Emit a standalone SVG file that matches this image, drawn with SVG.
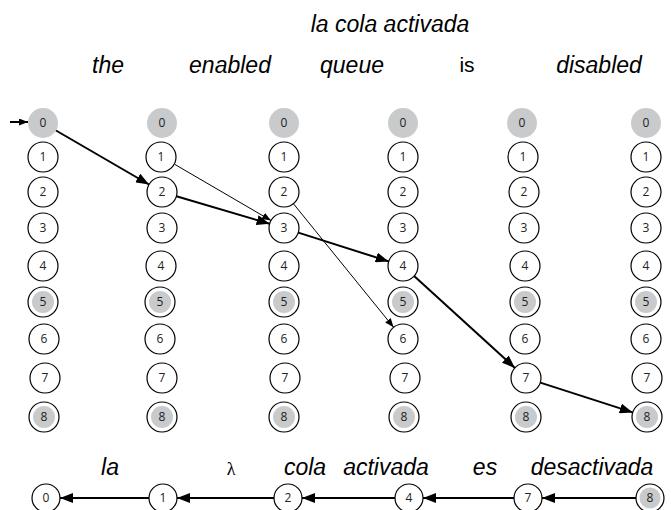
<svg xmlns="http://www.w3.org/2000/svg" width="671" height="510" viewBox="0 0 671 510">
<style>
.c{fill:#fff;stroke:#000;stroke-width:1.2}
.g{fill:#c8cacc;stroke:none}
.gi{fill:#c8cacc;stroke:none}
.n{font-family:"Open Sans","Noto Sans",sans-serif;font-size:12px;text-anchor:middle;fill:#222}
.w{font-family:"Liberation Sans",Arial,sans-serif;font-size:23px;font-style:italic;text-anchor:middle;fill:#000}
.u{font-family:"Liberation Sans",Arial,sans-serif;font-size:21px;text-anchor:middle;fill:#000}
.lam{font-family:"Liberation Serif","DejaVu Serif",serif;font-size:18px;text-anchor:middle;fill:#000}
.thick{stroke:#000;stroke-width:2;fill:none;marker-end:url(#ah)}
.thin{stroke:#000;stroke-width:1;fill:none;marker-end:url(#as)}
</style>
<defs>
<marker id="ah" markerUnits="userSpaceOnUse" markerWidth="14" markerHeight="10" refX="13" refY="5" orient="auto"><path d="M0,0 L13,5 L0,10 z" fill="#000"/></marker>
<marker id="as" markerUnits="userSpaceOnUse" markerWidth="10" markerHeight="8" refX="9" refY="3.5" orient="auto"><path d="M0,0 L9,3.5 L0,7 z" fill="#000"/></marker>
<g id="node0"><circle class="g" r="15"/></g>
<g id="nodeP"><circle class="c" r="15"/></g>
<g id="nodeF"><circle class="c" r="15"/><circle class="gi" r="11"/></g>
</defs>

<g id="labels">
<text class="w" x="390" y="32">la cola activada</text>
<text class="w" x="108" y="73">the</text>
<text class="w" x="230" y="73">enabled</text>
<text class="w" x="352" y="73">queue</text>
<text class="u" x="467" y="72">is</text>
<text class="w" x="599" y="73">disabled</text>
<text class="w" x="110" y="475">la</text>
<text class="lam" x="231" y="475">λ</text>
<text class="w" x="305" y="475">cola</text>
<text class="w" x="386" y="475">activada</text>
<text class="w" x="485" y="475">es</text>
<text class="w" x="592" y="475">desactivada</text>
</g>

<g id="col1">
<g id="n1_0"><use href="#node0" x="43" y="123"/><text class="n" x="43" y="127">0</text></g>
<g id="n1_1"><use href="#nodeP" x="43" y="157"/><text class="n" x="43" y="161">1</text></g>
<g id="n1_2"><use href="#nodeP" x="43" y="192"/><text class="n" x="43" y="196">2</text></g>
<g id="n1_3"><use href="#nodeP" x="43" y="228"/><text class="n" x="43" y="232">3</text></g>
<g id="n1_4"><use href="#nodeP" x="43" y="266"/><text class="n" x="43" y="270">4</text></g>
<g id="n1_5"><use href="#nodeF" x="43" y="302"/><text class="n" x="43" y="306">5</text></g>
<g id="n1_6"><use href="#nodeP" x="44" y="339"/><text class="n" x="44" y="343">6</text></g>
<g id="n1_7"><use href="#nodeP" x="45" y="378"/><text class="n" x="45" y="382">7</text></g>
<g id="n1_8"><use href="#nodeF" x="44" y="417"/><text class="n" x="44" y="421">8</text></g>
</g>

<g id="col2">
<g id="n2_0"><use href="#node0" x="162" y="123"/><text class="n" x="162" y="127">0</text></g>
<g id="n2_1"><use href="#nodeP" x="161" y="157"/><text class="n" x="161" y="161">1</text></g>
<g id="n2_2"><use href="#nodeP" x="162" y="192"/><text class="n" x="162" y="196">2</text></g>
<g id="n2_3"><use href="#nodeP" x="162" y="228"/><text class="n" x="162" y="232">3</text></g>
<g id="n2_4"><use href="#nodeP" x="161" y="266"/><text class="n" x="161" y="270">4</text></g>
<g id="n2_5"><use href="#nodeF" x="160" y="302"/><text class="n" x="160" y="306">5</text></g>
<g id="n2_6"><use href="#nodeP" x="160" y="339"/><text class="n" x="160" y="343">6</text></g>
<g id="n2_7"><use href="#nodeP" x="162" y="378"/><text class="n" x="162" y="382">7</text></g>
<g id="n2_8"><use href="#nodeF" x="162" y="417"/><text class="n" x="162" y="421">8</text></g>
</g>

<g id="col3">
<g id="n3_0"><use href="#node0" x="284" y="123"/><text class="n" x="284" y="127">0</text></g>
<g id="n3_1"><use href="#nodeP" x="284" y="157"/><text class="n" x="284" y="161">1</text></g>
<g id="n3_2"><use href="#nodeP" x="284" y="192"/><text class="n" x="284" y="196">2</text></g>
<g id="n3_3"><use href="#nodeP" x="284" y="228"/><text class="n" x="284" y="232">3</text></g>
<g id="n3_4"><use href="#nodeP" x="284" y="266"/><text class="n" x="284" y="270">4</text></g>
<g id="n3_5"><use href="#nodeF" x="284" y="302"/><text class="n" x="284" y="306">5</text></g>
<g id="n3_6"><use href="#nodeP" x="284" y="339"/><text class="n" x="284" y="343">6</text></g>
<g id="n3_7"><use href="#nodeP" x="285" y="378"/><text class="n" x="285" y="382">7</text></g>
<g id="n3_8"><use href="#nodeF" x="284" y="417"/><text class="n" x="284" y="421">8</text></g>
</g>

<g id="col4">
<g id="n4_0"><use href="#node0" x="403" y="123"/><text class="n" x="403" y="127">0</text></g>
<g id="n4_1"><use href="#nodeP" x="403" y="157"/><text class="n" x="403" y="161">1</text></g>
<g id="n4_2"><use href="#nodeP" x="403" y="192"/><text class="n" x="403" y="196">2</text></g>
<g id="n4_3"><use href="#nodeP" x="403" y="228"/><text class="n" x="403" y="232">3</text></g>
<g id="n4_4"><use href="#nodeP" x="403" y="266"/><text class="n" x="403" y="270">4</text></g>
<g id="n4_5"><use href="#nodeF" x="403" y="302"/><text class="n" x="403" y="306">5</text></g>
<g id="n4_6"><use href="#nodeP" x="403" y="339"/><text class="n" x="403" y="343">6</text></g>
<g id="n4_7"><use href="#nodeP" x="405" y="378"/><text class="n" x="405" y="382">7</text></g>
<g id="n4_8"><use href="#nodeF" x="404" y="417"/><text class="n" x="404" y="421">8</text></g>
</g>

<g id="col5">
<g id="n5_0"><use href="#node0" x="522" y="123"/><text class="n" x="522" y="127">0</text></g>
<g id="n5_1"><use href="#nodeP" x="523" y="157"/><text class="n" x="523" y="161">1</text></g>
<g id="n5_2"><use href="#nodeP" x="524" y="192"/><text class="n" x="524" y="196">2</text></g>
<g id="n5_3"><use href="#nodeP" x="524" y="228"/><text class="n" x="524" y="232">3</text></g>
<g id="n5_4"><use href="#nodeP" x="525" y="266"/><text class="n" x="525" y="270">4</text></g>
<g id="n5_5"><use href="#nodeF" x="525" y="302"/><text class="n" x="525" y="306">5</text></g>
<g id="n5_6"><use href="#nodeP" x="525" y="339"/><text class="n" x="525" y="343">6</text></g>
<g id="n5_7"><use href="#nodeP" x="526" y="378"/><text class="n" x="526" y="382">7</text></g>
<g id="n5_8"><use href="#nodeF" x="526" y="417"/><text class="n" x="526" y="421">8</text></g>
</g>

<g id="col6">
<g id="n6_0"><use href="#node0" x="646" y="123"/><text class="n" x="646" y="127">0</text></g>
<g id="n6_1"><use href="#nodeP" x="646" y="157"/><text class="n" x="646" y="161">1</text></g>
<g id="n6_2"><use href="#nodeP" x="646" y="192"/><text class="n" x="646" y="196">2</text></g>
<g id="n6_3"><use href="#nodeP" x="646" y="228"/><text class="n" x="646" y="232">3</text></g>
<g id="n6_4"><use href="#nodeP" x="646" y="266"/><text class="n" x="646" y="270">4</text></g>
<g id="n6_5"><use href="#nodeF" x="646" y="302"/><text class="n" x="646" y="306">5</text></g>
<g id="n6_6"><use href="#nodeP" x="646" y="339"/><text class="n" x="646" y="343">6</text></g>
<g id="n6_7"><use href="#nodeP" x="647" y="378"/><text class="n" x="647" y="382">7</text></g>
<g id="n6_8"><use href="#nodeF" x="647" y="417"/><text class="n" x="647" y="421">8</text></g>
</g>

<g id="bottom">
<g id="b0"><circle class="c" cx="46" cy="498" r="14"/><text class="n" x="46" y="502">0</text></g>
<g id="b1"><circle class="c" cx="163" cy="498" r="14"/><text class="n" x="163" y="502">1</text></g>
<g id="b2"><circle class="c" cx="288" cy="498" r="14"/><text class="n" x="288" y="502">2</text></g>
<g id="b4"><circle class="c" cx="409" cy="498" r="14"/><text class="n" x="409" y="502">4</text></g>
<g id="b7"><circle class="c" cx="528" cy="498" r="14"/><text class="n" x="528" y="502">7</text></g>
<g id="b8"><circle class="c" cx="650" cy="498" r="14"/><circle class="gi" cx="650" cy="498" r="10.5"/><text class="n" x="650" y="502">8</text></g>
</g>

<g id="connectors">
<line class="thick" x1="10" y1="122" x2="28" y2="122" style="marker-end:url(#as)"/>
<line class="thick" x1="56" y1="130.5" x2="149" y2="184.5"/>
<line class="thick" x1="176.4" y1="196.2" x2="269.6" y2="223.8"/>
<line class="thick" x1="298.3" y1="232.6" x2="388.7" y2="261.4"/>
<line class="thick" x1="414.1" y1="276.1" x2="514.9" y2="367.9"/>
<line class="thick" x1="540.3" y1="382.6" x2="632.7" y2="412.4"/>
<line class="thin" x1="175" y1="164.5" x2="271" y2="220.5"/>
<line class="thin" x1="293.4" y1="203.7" x2="393.6" y2="327.3"/>
<line class="thick" x1="636" y1="498" x2="542" y2="498"/>
<line class="thick" x1="514" y1="498" x2="423" y2="498"/>
<line class="thick" x1="395" y1="498" x2="302" y2="498"/>
<line class="thick" x1="274" y1="498" x2="177" y2="498"/>
<line class="thick" x1="149" y1="498" x2="60" y2="498"/>
</g>
</svg>
